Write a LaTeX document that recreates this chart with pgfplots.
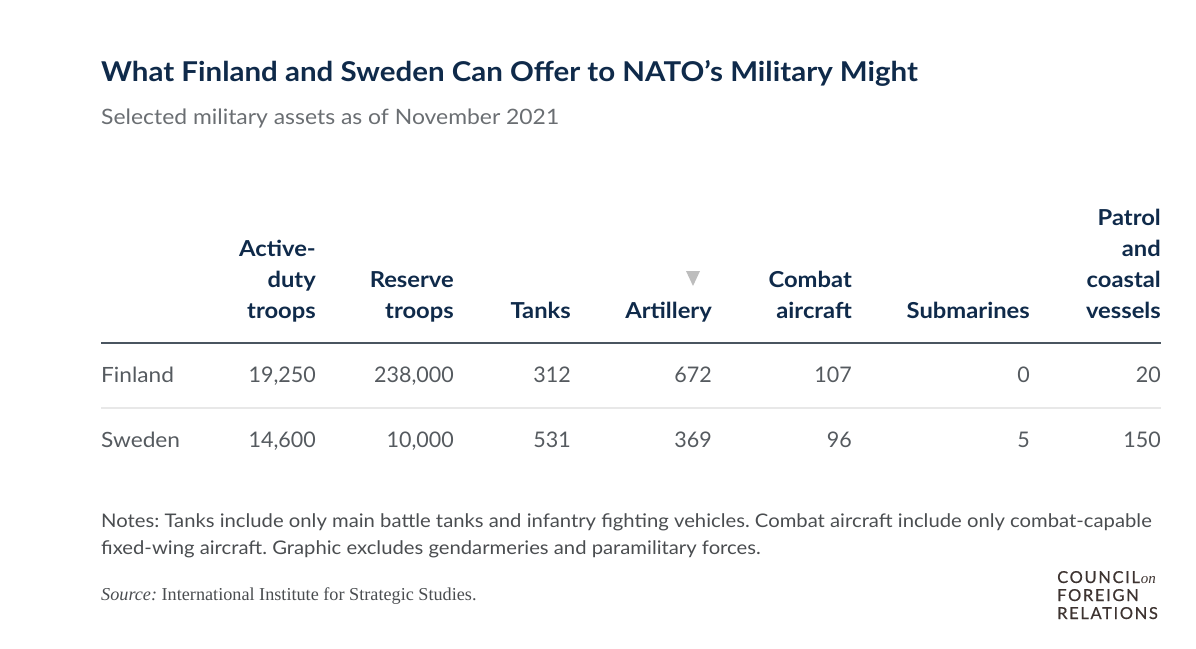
\documentclass[border=0pt]{standalone}
\usepackage{pgfplots}
\pgfplotsset{compat=1.18}
\usepackage{pgfplotstable}
\usepackage{fontspec}
\setmainfont[FakeStretch=1.08]{Lato}
\newfontfamily\numfont{Lato}
\newfontfamily\seriffont{Liberation Serif}
\newfontfamily\logofont[LetterSpace=10,FakeBold=0.6]{Lato}
\definecolor{navy}{HTML}{0F2A4A}
\definecolor{numgray}{HTML}{555A5F}
\definecolor{subgray}{HTML}{6A6E72}
\definecolor{notegray}{HTML}{4A4D50}
\definecolor{rulecol}{HTML}{4A5560}
\definecolor{seprule}{HTML}{E8E8E8}
\definecolor{tri}{HTML}{BDBDBD}
\definecolor{logocol}{HTML}{3D3330}
\frenchspacing

% columns: right edge (px), Finland, Sweden
\pgfplotstableread{
x finland sweden
316 19250 14600
454 238000 10000
571 312 531
712 672 369
852 107 96
1030 0 5
1161 20 150
}\assets

\newcommand{\hdr}[3]{\node[anchor=base east,inner sep=0pt,text=navy,font=\fontsize{22}{26}\selectfont\bfseries] at (axis cs:#1,#2) {#3};}

\begin{document}
\begin{tikzpicture}
\begin{axis}[
  width=1196pt,height=648pt,scale only axis,
  xmin=0,xmax=1196,ymin=0,ymax=648,y dir=reverse,
  hide axis,clip=false,
  /pgf/number format/fixed,
  /pgf/number format/precision=0,
  /pgf/number format/1000 sep={,},
  /pgf/number format/assume math mode=true,
  nodes near coords style={anchor=base east,inner sep=0pt,text=numgray,font=\numfont\fontsize{21.5}{25}\selectfont},
]
\path (axis cs:0,0) rectangle (axis cs:1196,648);

\addplot[draw=none,mark=none,nodes near coords,point meta=explicit]
  table[x=x,y expr=382,meta=finland] {\assets};
\addplot[draw=none,mark=none,nodes near coords,point meta=explicit]
  table[x=x,y expr=447,meta=sweden] {\assets};

% title and subtitle
\node[anchor=base west,inner sep=0pt,text=navy,font=\fontsize{27.3}{32}\selectfont\bfseries] at (axis cs:101,81) {What Finland and Sweden Can Offer to NATO’s Military Might};
\node[anchor=base west,inner sep=0pt,text=subgray,font=\fontsize{21.2}{25}\selectfont] at (axis cs:101,124) {Selected military assets as of November 2021};

% headers
\hdr{316}{256}{Active-}
\hdr{316}{287}{duty}
\hdr{316}{318}{troops}
\hdr{454}{287}{Reserve}
\hdr{454}{318}{troops}
\hdr{571}{318}{Tanks}
\hdr{712}{318}{Artillery}
\hdr{852}{287}{Combat}
\hdr{852}{318}{aircraft}
\hdr{1030}{318}{Submarines}
\hdr{1161}{225}{Patrol}
\hdr{1161}{256}{and}
\hdr{1161}{287}{coastal}
\hdr{1161}{318}{vessels}
\fill[tri] (axis cs:686,271) -- (axis cs:700,271) -- (axis cs:693,286) -- cycle;

% rules
\draw[rulecol,line width=1.6pt] (axis cs:101,343) -- (axis cs:1161,343);
\draw[seprule,line width=1.6pt] (axis cs:101,408) -- (axis cs:1161,408);

% row labels
\node[anchor=base west,inner sep=0pt,text=numgray,font=\fontsize{21}{25}\selectfont] at (axis cs:101,382) {Finland};
\node[anchor=base west,inner sep=0pt,text=numgray,font=\fontsize{21}{25}\selectfont] at (axis cs:101,447) {Sweden};

% notes
\node[anchor=base west,inner sep=0pt,text=notegray,font=\fontsize{18.75}{22}\selectfont] at (axis cs:101,527) {Notes: Tanks include only main battle tanks and infantry fighting vehicles. Combat aircraft include only combat-capable};
\node[anchor=base west,inner sep=0pt,text=notegray,font=\fontsize{18.75}{22}\selectfont] at (axis cs:101,554) {fixed-wing aircraft. Graphic excludes gendarmeries and paramilitary forces.};
\node[anchor=base west,inner sep=0pt,text=notegray,font=\fontsize{18.2}{21}\selectfont\seriffont] at (axis cs:101,600) {\textit{Source:} International Institute for Strategic Studies.};

% logo
\node[anchor=base west,inner sep=0pt,text=logocol,font=\fontsize{16.5}{19}\selectfont\logofont] at (axis cs:1057,583) {COUNCIL\kern1pt{\seriffont\itshape\fontsize{15}{17}\selectfont on}};
\node[anchor=base west,inner sep=0pt,text=logocol,font=\fontsize{16.5}{19}\selectfont\logofont] at (axis cs:1057,601) {FOREIGN};
\node[anchor=base west,inner sep=0pt,text=logocol,font=\fontsize{16.5}{19}\selectfont\logofont] at (axis cs:1057,619) {RELATIONS};
\end{axis}
\end{tikzpicture}
\end{document}
